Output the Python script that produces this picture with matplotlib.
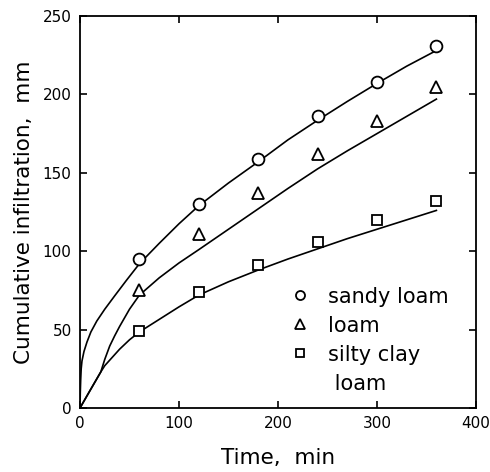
import matplotlib
matplotlib.use('Agg')
import matplotlib.pyplot as plt
from matplotlib.lines import Line2D

# measured points (min, mm)
t_obs = [60, 120, 180, 240, 300, 360]
sandy_obs = [95, 130, 159, 186, 208, 231]
loam_obs = [75, 111, 137, 162, 183, 205]
silty_obs = [49, 74, 91, 106, 120, 132]

# fitted curves
t_sandy_fit = [0, 0.3, 0.7, 1.2, 2, 4, 7, 11, 17, 25, 35, 47, 60, 80, 100, 120,
               150, 180, 210, 240, 270, 300, 330, 360]
sandy_fit = [0, 10, 18, 25, 30, 36, 42, 48.5, 55.5, 63, 71.5, 81.5, 92, 105, 117.5, 129,
             143.5, 157, 171, 183.5, 195.5, 207, 218, 228]

t_loam_fit = [0, 10, 21, 23, 25, 30, 35, 40, 50, 60, 80, 100, 120,
              150, 180, 210, 240, 270, 300, 330, 360]
loam_fit = [0, 11, 23, 27, 31, 39.5, 46, 52, 63, 72, 83, 92.5, 101,
            114, 127, 140, 152.5, 164, 175, 186, 197]

t_silty_fit = [0, 10, 21, 25, 30, 40, 50, 60, 80, 100, 120,
               150, 180, 210, 240, 270, 300, 330, 360]
silty_fit = [0, 11, 23, 27, 30.5, 37.5, 43.5, 48.5, 56.5, 64.5, 72,
             80.5, 88, 95, 101.5, 108, 114, 120, 126]

legend_labels = ['sandy loam', 'loam', 'silty clay', ' loam']

x_ticks = [0, 100, 200, 300, 400]
y_ticks = [0, 50, 100, 150, 200, 250]

plt.rcParams['font.family'] = ['DejaVu Sans']

fig = plt.figure(figsize=(4.90, 4.72), dpi=100)
ax = fig.add_axes([80 / 490, 64 / 472, 396 / 490, 392 / 472])

ax.plot(t_sandy_fit, sandy_fit, color='black', lw=1.2)
ax.plot(t_loam_fit, loam_fit, color='black', lw=1.2)
ax.plot(t_silty_fit, silty_fit, color='black', lw=1.2)

mk = dict(ls='none', mfc='white', mec='black', mew=1.3, ms=8.5)
ax.plot(t_obs, sandy_obs, marker='o', **mk)
ax.plot(t_obs, loam_obs, marker='^', **mk)
ax.plot(t_obs, silty_obs, marker='s', **dict(mk, ms=7.5))

ax.set_xlim(0, 400)
ax.set_ylim(0, 250)
ax.set_xticks(x_ticks)
ax.set_yticks(y_ticks)
ax.tick_params(direction='in', length=5, width=1.2, top=True, right=True,
               labelsize=11, pad=6)
for s in ax.spines.values():
    s.set_linewidth(1.3)

ax.set_xlabel('Time,  min', fontsize=15.5, labelpad=12)
ax.set_ylabel('Cumulative infiltration,  mm', fontsize=15.5, labelpad=6)

# legend: 'silty clay loam' wraps, marker stays on the first line
handles = [
    Line2D([], [], marker='o', **dict(mk, ms=6.5)),
    Line2D([], [], marker='^', **dict(mk, ms=6.5)),
    Line2D([], [], marker='s', **dict(mk, ms=6)),
    Line2D([], [], ls='none', marker=''),
]
ax.legend(handles, legend_labels,
          loc='upper left', bbox_to_anchor=(0.502, 0.336), frameon=False,
          fontsize=15, handlelength=1.0, handletextpad=0.87, labelspacing=0.43,
          borderpad=0)

fig.savefig('out.png', dpi=100)
